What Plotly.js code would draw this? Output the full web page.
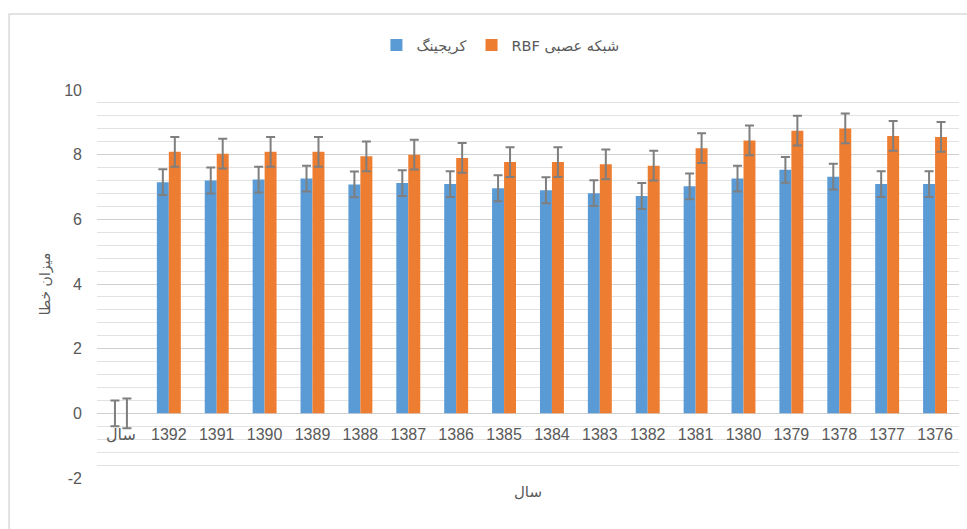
<!DOCTYPE html>
<html>
<head>
<meta charset="utf-8">
<script src="https://cdn.plot.ly/plotly-3.0.1.min.js"></script>
<style>
  html, body { margin: 0; padding: 0; background: #ffffff; }
  #chart { width: 967px; height: 529px; }
</style>
</head>
<body>
<div id="chart"></div>
<script>
// Categories (years) as on the category axis
const categories = ['سال', '1392', '1391', '1390', '1389', '1388', '1387', '1386', '1385', '1384', '1383', '1382', '1381', '1380', '1379', '1378', '1377', '1376'];

// Series names
const seriesNames = ['کریجینگ', 'RBF شبکه عصبی'];

// Error values (kriging)
const krigingValues = [0, 7.15, 7.2, 7.23, 7.26, 7.08, 7.12, 7.09, 6.96, 6.9, 6.81, 6.72, 7.02, 7.26, 7.53, 7.32, 7.09, 7.09];
// Error values (RBF neural network)
const rbfValues = [0, 8.09, 8.03, 8.09, 8.09, 7.95, 8.0, 7.9, 7.77, 7.77, 7.7, 7.66, 8.2, 8.44, 8.74, 8.81, 8.58, 8.55];

// Error bar sizes
const krigingErr = [0.4, 0.4, 0.4, 0.4, 0.4, 0.4, 0.4, 0.4, 0.4, 0.4, 0.4, 0.4, 0.4, 0.4, 0.4, 0.4, 0.4, 0.4];
const rbfErr = [0.46, 0.46, 0.46, 0.46, 0.46, 0.46, 0.46, 0.46, 0.46, 0.46, 0.46, 0.46, 0.46, 0.46, 0.46, 0.46, 0.46, 0.46];

// Y tick values and labels
const yTickVals = [-2, 0, 2, 4, 6, 8, 10];
const yTickText = ['-2', '0', '2', '4', '6', '8', '10'];

// Axis text
const yTitle = 'میزان خطا';
const xTitle = 'سال';

const txt = '#595959';
const errColor = '#7F7F7F';

const traces = [
  {
    type: 'bar', name: seriesNames[0], x: categories, y: krigingValues,
    marker: { color: '#5B9BD5' },
    error_y: { type: 'data', array: krigingErr, visible: true, color: errColor, thickness: 2, width: 4.5 }
  },
  {
    type: 'bar', name: seriesNames[1], x: categories, y: rbfValues,
    marker: { color: '#ED7D31' },
    error_y: { type: 'data', array: rbfErr, visible: true, color: errColor, thickness: 2, width: 4.5 }
  }
];

const layout = {
  width: 967, height: 529,
  margin: { l: 97, r: 8, t: 90, b: 51 },
  paper_bgcolor: '#ffffff', plot_bgcolor: '#ffffff',
  font: { family: '"Liberation Sans", "DejaVu Sans", sans-serif', color: txt },
  barmode: 'group', bargap: 0.5, bargroupgap: 0,
  showlegend: true,
  legend: {
    orientation: 'h', x: 0.468, xanchor: 'center', y: 1.116, yanchor: 'middle',
    font: { size: 14.5, color: txt, family: '"DejaVu Sans", "Liberation Sans", sans-serif' },
    itemwidth: 30, tracegroupgap: 0, bgcolor: 'rgba(0,0,0,0)'
  },
  xaxis: {
    type: 'category', anchor: 'free', position: 2 / 12,
    showgrid: false, zeroline: false, showline: false, ticks: '',
    tickfont: { size: 16, color: txt }, ticklabelstandoff: 10,
    title: { text: xTitle, font: { size: 15, color: txt, family: '"DejaVu Sans", sans-serif' }, standoff: 44 },
    fixedrange: true
  },
  yaxis: {
    range: [-2, 10], tickmode: 'array', tickvals: yTickVals, ticktext: yTickText,
    showgrid: true, gridcolor: '#D0D0D0', gridwidth: 1,
    zeroline: true, zerolinecolor: '#D0D0D0', zerolinewidth: 1,
    minor: { tickmode: 'linear', dtick: 0.4, tick0: 0, showgrid: true, gridcolor: '#E2E2E2', gridwidth: 1 },
    showline: false, ticks: '',
    tickfont: { size: 16, color: txt }, ticklabelstandoff: 14,
    title: { text: yTitle, font: { size: 14, color: txt, family: '"DejaVu Sans", sans-serif' }, standoff: 10 },
    fixedrange: true
  },
  shapes: [
    { type: 'rect', xref: 'paper', yref: 'paper', x0: -0.102, x1: 1.3, y0: -0.4, y1: 1.196,
      line: { color: '#D9D9D9', width: 1.5 }, fillcolor: 'rgba(0,0,0,0)', layer: 'below' }
  ]
};

Plotly.newPlot('chart', traces, layout, { displayModeBar: false, staticPlot: true });
</script>
</body>
</html>
